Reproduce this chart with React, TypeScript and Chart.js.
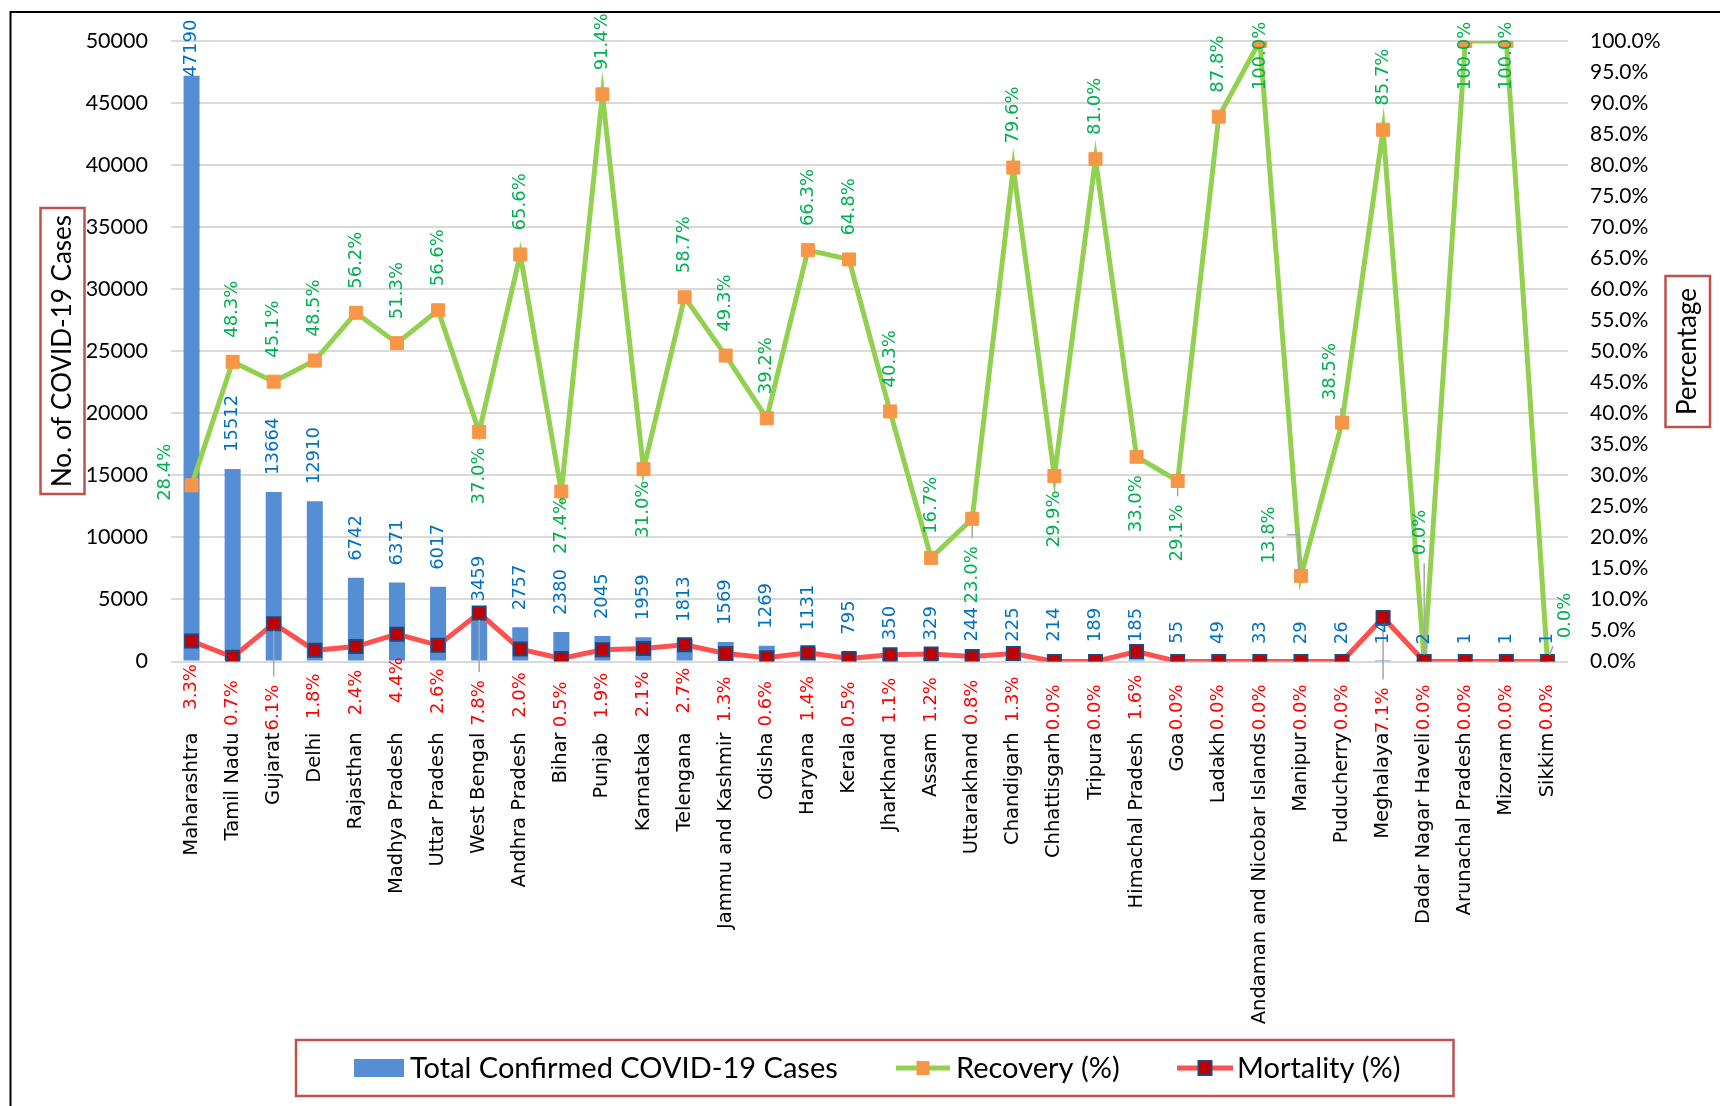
import { useEffect, useRef } from 'react';
import { Chart, registerables } from 'chart.js';

Chart.register(...registerables);

// ---- data ----
const states = [
  'Maharashtra', 'Tamil Nadu', 'Gujarat', 'Delhi', 'Rajasthan', 'Madhya Pradesh',
  'Uttar Pradesh', 'West Bengal', 'Andhra Pradesh', 'Bihar', 'Punjab', 'Karnataka',
  'Telengana', 'Jammu and Kashmir', 'Odisha', 'Haryana', 'Kerala', 'Jharkhand',
  'Assam', 'Uttarakhand', 'Chandigarh', 'Chhattisgarh', 'Tripura', 'Himachal Pradesh',
  'Goa', 'Ladakh', 'Andaman and Nicobar Islands', 'Manipur', 'Puducherry', 'Meghalaya',
  'Dadar Nagar Haveli', 'Arunachal Pradesh', 'Mizoram', 'Sikkim',
];

const totalCases = [
  47190, 15512, 13664, 12910, 6742, 6371, 6017, 3459, 2757, 2380, 2045, 1959,
  1813, 1569, 1269, 1131, 795, 350, 329, 244, 225, 214, 189, 185,
  55, 49, 33, 29, 26, 14, 2, 1, 1, 1,
];

const recoveryPct = [
  28.4, 48.3, 45.1, 48.5, 56.2, 51.3, 56.6, 37.0, 65.6, 27.4, 91.4, 31.0,
  58.7, 49.3, 39.2, 66.3, 64.8, 40.3, 16.7, 23.0, 79.6, 29.9, 81.0, 33.0,
  29.1, 87.8, 100.0, 13.8, 38.5, 85.7, 0.0, 100.0, 100.0, 0.0,
];

const mortalityPct = [
  3.3, 0.7, 6.1, 1.8, 2.4, 4.4, 2.6, 7.8, 2.0, 0.5, 1.9, 2.1,
  2.7, 1.3, 0.6, 1.4, 0.5, 1.1, 1.2, 0.8, 1.3, 0.0, 0.0, 1.6,
  0.0, 0.0, 0.0, 0.0, 0.0, 7.1, 0.0, 0.0, 0.0, 0.0,
];

const caseAxis = { min: 0, max: 50000, step: 5000 };
const pctAxis = { min: 0, max: 100, step: 5 };

const seriesNames = ['Total Confirmed COVID-19 Cases', 'Recovery (%)', 'Mortality (%)'];
const leftTitle = 'No. of COVID-19 Cases';
const rightTitle = 'Percentage';

// ---- label layout ----
// Recovery labels default to sitting above their point; these are moved (centre offset dx, dy).
const recoveryLabelMoves: Record<number, [number, number]> = {
  0: [-26, -13], 7: [0, 44], 9: [0, 34], 11: [0, 40], 19: [0, 56], 21: [0, 43],
  23: [0, 47], 24: [0, 52], 26: [0, 15], 27: [-32, -41], 28: [-12, -51],
  30: [-4, -129], 31: [0, 15], 32: [0, 15], 33: [18, -46],
};
const recoveryLeaders = [19, 24, 27, 28, 30, 33];
const recoveryElbowLeaders = [27];
// Mortality labels sit below their point; these were pulled further down.
const mortalityLabelGaps: Record<number, number> = { 2: 61, 7: 67, 29: 70 };
const mortalityLeaders = [2, 7, 29];

// ---- styles ----
const BAR_BLUE = '#558ED5';
const REC_GREEN = '#92D050';
const REC_MARK = '#F79646';
const MOR_RED = '#FF5050';
const MOR_MARK = '#C00000';
const MOR_EDGE = '#1F497D';
const TXT_BLUE = '#0070C0';
const TXT_GREEN = '#00B050';
const TXT_RED = '#FF0000';
const BOX_RED = '#C0504D';
const LEADER = '#A6A6A6';
const LABEL_FONT = '18px "DejaVu Sans"';
const UI_FONT = 'Lato';

function drawRotated(ctx: CanvasRenderingContext2D, text: string, cx: number, cy: number, color: string) {
  ctx.save();
  ctx.translate(cx, cy);
  ctx.rotate(-Math.PI / 2);
  ctx.fillStyle = color;
  ctx.textAlign = 'center';
  ctx.textBaseline = 'middle';
  ctx.fillText(text, 0, 0);
  ctx.restore();
}

function drawLeader(ctx: CanvasRenderingContext2D, mx: number, my: number, cx: number, cy: number, len: number) {
  const halfT = 10;
  const px = Math.min(Math.max(mx, cx - halfT), cx + halfT);
  const py = Math.min(Math.max(my, cy - len / 2), cy + len / 2);
  const dx = px - mx;
  const dy = py - my;
  const d = Math.hypot(dx, dy);
  if (d < 16) return;
  const ux = dx / d;
  const uy = dy / d;
  ctx.beginPath();
  ctx.moveTo(mx + ux * 7, my + uy * 7);
  ctx.lineTo(px - ux * 8, py - uy * 8);
  ctx.strokeStyle = LEADER;
  ctx.lineWidth = 1.5;
  ctx.stroke();
}

function drawElbowLeader(ctx: CanvasRenderingContext2D, mx: number, my: number, cx: number, cy: number) {
  ctx.beginPath();
  ctx.moveTo(cx + 18, cy);
  ctx.lineTo(mx - 2, cy);
  ctx.lineTo(mx - 2, my - 4);
  ctx.strokeStyle = LEADER;
  ctx.lineWidth = 1.5;
  ctx.stroke();
}

const pct = (v: number) => v.toFixed(1) + '%';

const annotate = {
  id: 'annotate',
  afterDatasetsDraw(chart: any) {
    const ctx: CanvasRenderingContext2D = chart.ctx;
    const bars = chart.getDatasetMeta(0).data;
    const rec = chart.getDatasetMeta(1).data;
    const mor = chart.getDatasetMeta(2).data;
    ctx.save();
    ctx.font = LABEL_FONT;

    type Lbl = { text: string; x: number; y: number; color: string };
    const labels: Lbl[] = [];

    bars.forEach((el: any, i: number) => {
      const text = String(totalCases[i]);
      const L = ctx.measureText(text).width;
      const gap = i === 0 ? -1 : 17;
      labels.push({ text, x: el.x, y: el.y - gap - L / 2, color: TXT_BLUE });
    });

    rec.forEach((el: any, i: number) => {
      const text = pct(recoveryPct[i]);
      const L = ctx.measureText(text).width;
      let x = el.x;
      let y = el.y - 24 - L / 2;
      const mv = recoveryLabelMoves[i];
      if (mv) {
        x = el.x + mv[0];
        y = el.y + mv[1];
      }
      if (recoveryElbowLeaders.includes(i)) drawElbowLeader(ctx, el.x, el.y, x, y);
      else if (recoveryLeaders.includes(i)) drawLeader(ctx, el.x, el.y, x, y, L);
      labels.push({ text, x, y, color: TXT_GREEN });
    });

    mor.forEach((el: any, i: number) => {
      const text = pct(mortalityPct[i]);
      const L = ctx.measureText(text).width;
      const gap = mortalityLabelGaps[i] ?? 23;
      const y = el.y + gap + L / 2;
      if (mortalityLeaders.includes(i)) drawLeader(ctx, el.x, el.y, el.x, y, L);
      labels.push({ text, x: el.x, y, color: TXT_RED });
    });

    labels.forEach((l) => drawRotated(ctx, l.text, l.x, l.y, l.color));
    ctx.restore();
  },
  afterDraw(chart: any) {
    const ctx: CanvasRenderingContext2D = chart.ctx;
    ctx.save();

    // outer frame
    ctx.strokeStyle = '#000';
    ctx.lineWidth = 2;
    ctx.strokeRect(10.5, 12, 1800, 1200);

    // axis titles in boxes
    ctx.strokeStyle = BOX_RED;
    ctx.lineWidth = 2.5;
    ctx.strokeRect(40.5, 208, 44, 286);
    ctx.strokeRect(1665.5, 276, 44.5, 151);
    ctx.font = `26px ${UI_FONT}`;
    drawRotated(ctx, leftTitle, 63, 351, '#000');
    drawRotated(ctx, rightTitle, 1688, 351.5, '#000');

    // legend
    ctx.strokeStyle = BOX_RED;
    ctx.lineWidth = 2.5;
    ctx.strokeRect(296, 1040, 1157.5, 56);
    const ly = 1068;
    ctx.fillStyle = BAR_BLUE;
    ctx.fillRect(354, 1059, 50, 18);

    ctx.strokeStyle = REC_GREEN;
    ctx.lineWidth = 5;
    ctx.beginPath();
    ctx.moveTo(896, ly);
    ctx.lineTo(950, ly);
    ctx.stroke();
    ctx.fillStyle = REC_MARK;
    ctx.fillRect(916.5, ly - 7, 13, 14);

    ctx.strokeStyle = MOR_RED;
    ctx.beginPath();
    ctx.moveTo(1177, ly);
    ctx.lineTo(1233, ly);
    ctx.stroke();
    ctx.fillStyle = MOR_MARK;
    ctx.fillRect(1198.5, ly - 7, 13, 14);
    ctx.strokeStyle = MOR_EDGE;
    ctx.lineWidth = 2;
    ctx.strokeRect(1198.5, ly - 7, 13, 14);

    ctx.fillStyle = '#000';
    ctx.font = `29px ${UI_FONT}`;
    ctx.textAlign = 'left';
    ctx.textBaseline = 'alphabetic';
    ctx.fillText(seriesNames[0], 410, 1078);
    ctx.fillText(seriesNames[1], 956, 1078);
    ctx.fillText(seriesNames[2], 1237, 1078);
    ctx.restore();
  },
};

export default function App() {
  const ref = useRef<HTMLCanvasElement | null>(null);

  useEffect(() => {
    if (!ref.current) return;
    const chart = new Chart(ref.current, {
      type: 'bar',
      data: {
        labels: states,
        datasets: [
          {
            type: 'bar',
            label: seriesNames[0],
            data: totalCases,
            yAxisID: 'y',
            backgroundColor: BAR_BLUE,
            barPercentage: 0.39,
            categoryPercentage: 1,
            order: 3,
          },
          {
            type: 'line',
            label: seriesNames[1],
            data: recoveryPct,
            yAxisID: 'y1',
            borderColor: REC_GREEN,
            borderWidth: 5,
            backgroundColor: REC_MARK,
            pointStyle: 'rect',
            pointRadius: 9.2,
            pointBorderColor: REC_MARK,
            pointBorderWidth: 1,
            pointBackgroundColor: REC_MARK,
            tension: 0,
            fill: false,
            order: 2,
          },
          {
            type: 'line',
            label: seriesNames[2],
            data: mortalityPct,
            yAxisID: 'y1',
            borderColor: MOR_RED,
            borderWidth: 5,
            backgroundColor: MOR_MARK,
            pointStyle: 'rect',
            pointRadius: 9.2,
            pointBorderColor: MOR_EDGE,
            pointBorderWidth: 2,
            pointBackgroundColor: MOR_MARK,
            tension: 0,
            fill: false,
            order: 1,
          },
        ],
      },
      options: {
        responsive: false,
        animation: false,
        devicePixelRatio: 1,
        layout: { padding: { top: 41, left: 0, right: 0, bottom: 0 } },
        plugins: { legend: { display: false }, tooltip: { enabled: false } },
        scales: {
          x: {
            grid: { display: false, drawTicks: false },
            border: { display: false },
            ticks: {
              autoSkip: false,
              minRotation: 90,
              maxRotation: 90,
              padding: 71,
              color: '#000',
              font: { family: 'DejaVu Sans', size: 19.5 },
            },
            afterFit: (s: any) => {
              s.height = 444.5;
            },
          },
          y: {
            position: 'left',
            min: caseAxis.min,
            max: caseAxis.max,
            grid: { color: '#D9D9D9', lineWidth: 2, drawTicks: false },
            border: { display: false },
            ticks: {
              stepSize: caseAxis.step,
              autoSkip: false,
              padding: 23,
              color: '#000',
              font: { family: UI_FONT, size: 21.5 },
              callback: (v: any) => String(v),
            },
            afterFit: (s: any) => {
              s.width = 171;
            },
          },
          y1: {
            position: 'right',
            min: pctAxis.min,
            max: pctAxis.max,
            grid: { display: false, drawTicks: false },
            border: { display: false },
            ticks: {
              stepSize: pctAxis.step,
              autoSkip: false,
              padding: 22,
              color: '#000',
              font: { family: UI_FONT, size: 21 },
              callback: (v: any) => Number(v).toFixed(1) + '%',
            },
            afterFit: (s: any) => {
              s.width = 152;
            },
          },
        },
      },
      plugins: [annotate],
    });
    return () => chart.destroy();
  }, []);

  return (
    <div
      style={{
        position: 'fixed',
        left: 0,
        top: 0,
        width: 1720,
        height: 1106,
        overflow: 'hidden',
        background: '#fff',
      }}
    >
      <canvas ref={ref} width={1720} height={1106} style={{ display: 'block' }} />
    </div>
  );
}
